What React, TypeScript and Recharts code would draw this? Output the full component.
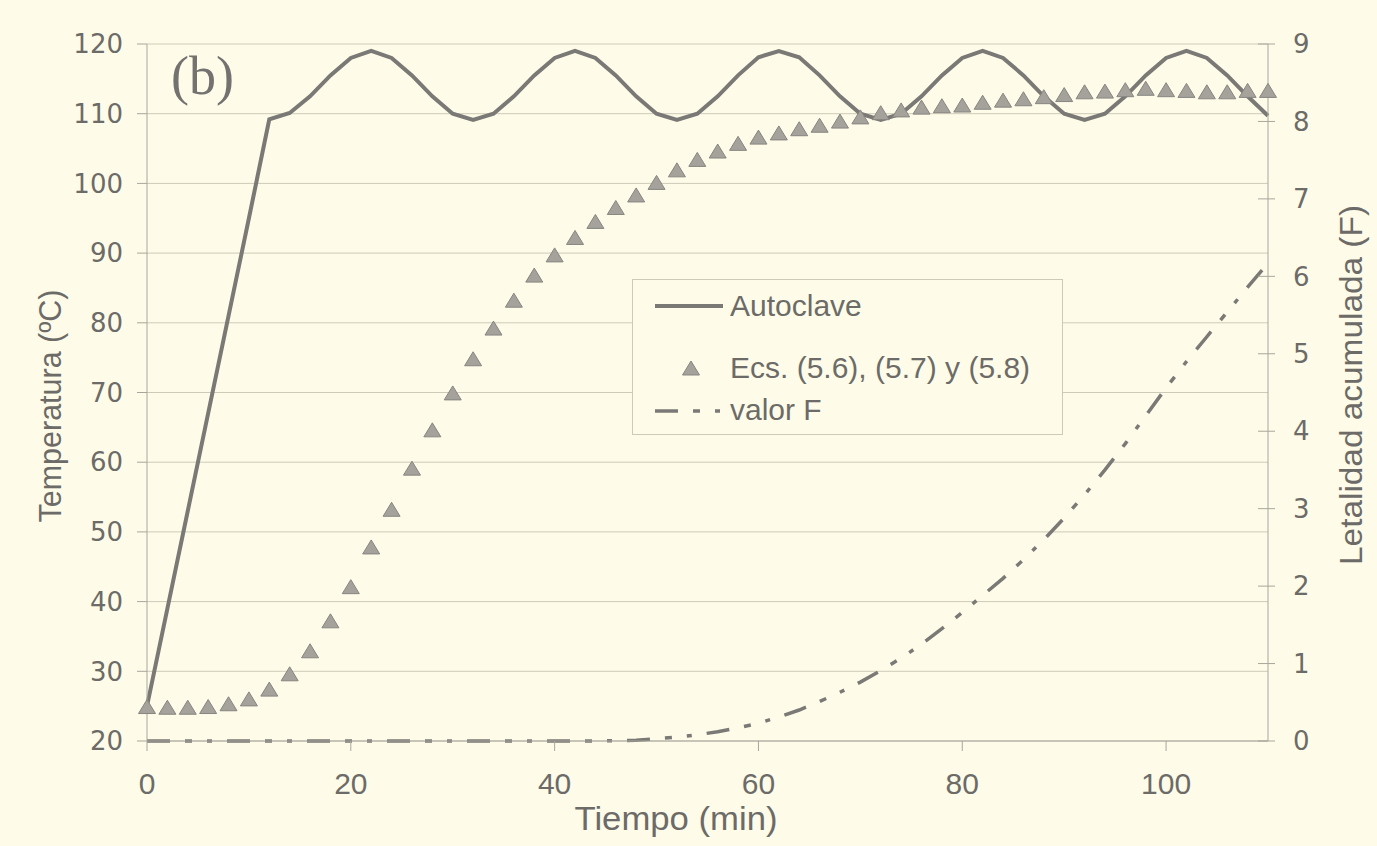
import { ComposedChart, Line, XAxis, YAxis, CartesianGrid, Legend, Label } from "recharts";

const tiempo = [
  0, 2, 4, 6, 8, 10, 12, 14, 16, 18, 20, 22, 24, 26, 28, 30, 32, 34, 36, 38, 40, 42, 44, 46, 48, 50, 52, 54,
  56, 58, 60, 62, 64, 66, 68, 70, 72, 74, 76, 78, 80, 82, 84, 86, 88, 90, 92, 94, 96, 98, 100, 102, 104, 106,
  108, 110,
];

// temperatura del autoclave (ºC)
const autoclave = [
  25, 39, 53, 67, 81, 95, 109.2, 110.1, 112.5, 115.5, 118, 119, 118, 115.5, 112.5, 110, 109.1, 110, 112.5,
  115.5, 118, 119, 118, 115.5, 112.5, 110, 109.1, 110, 112.5, 115.5, 118.1, 119, 118.1, 115.5, 112.5, 110,
  109.1, 110, 112.5, 115.5, 118, 119, 118, 115.5, 112.5, 110, 109.1, 110, 112.5, 115.5, 118, 119, 118, 115.5,
  112.5, 109.7,
];

// Ecs. (5.6), (5.7) y (5.8) (ºC)
const ecs = [
  24.8, 24.7, 24.7, 24.8, 25.2, 25.9, 27.3, 29.5, 32.8, 37.1, 42.0, 47.7, 53.1, 59.0, 64.5, 69.8, 74.7, 79.1,
  83.1, 86.7, 89.6, 92.1, 94.4, 96.4, 98.2, 100.0, 101.8, 103.3, 104.5, 105.6, 106.5, 107.1, 107.7, 108.2,
  108.8, 109.4, 110.0, 110.4, 110.8, 111.0, 111.1, 111.5, 111.8, 112.0, 112.3, 112.6, 113.0, 113.1, 113.3,
  113.5, 113.3, 113.2, 113.0, 113.0, 113.2, 113.2,
];

// letalidad acumulada F (min)
const valorF = [
  0, 0, 0, 0, 0, 0, 0, 0, 0, 0, 0, 0, 0, 0, 0, 0, 0, 0, 0, 0, 0, 0, 0, 0.005, 0.01, 0.03, 0.05, 0.08, 0.12,
  0.17, 0.23, 0.31, 0.4, 0.51, 0.63, 0.76, 0.91, 1.07, 1.25, 1.45, 1.66, 1.88, 2.1, 2.34, 2.6, 2.88, 3.18,
  3.5, 3.84, 4.2, 4.56, 4.9, 5.22, 5.54, 5.86, 6.17,
];

const xTicks = [0, 20, 40, 60, 80, 100];
const tempTicks = [20, 30, 40, 50, 60, 70, 80, 90, 100, 110, 120];
const fTicks = [0, 1, 2, 3, 4, 5, 6, 7, 8, 9];

const data = tiempo.map((t, i) => ({ t, autoclave: autoclave[i], ecs: ecs[i], valorF: valorF[i] }));

const BG = "#fefce9";
const TXT = "#6c6b68";
const LINE = "#7b7975";
const AXIS = "#a8a69c";
const GRID = "#cdcbb8";
const TRI_FILL = "#a4a29b";
const TRI_STROKE = "#878580";
const F_DASH = "23 15 7 15 5 15";

const Triangle = ({ cx, cy }: { cx: number; cy: number }) => (
  <path
    d={`M${cx},${cy - 8} L${cx + 8.5},${cy + 6} L${cx - 8.5},${cy + 6} Z`}
    fill={TRI_FILL}
    stroke={TRI_STROKE}
    strokeWidth={1}
  />
);

const RightTick = (props: any) => {
  const { x, y, payload } = props;
  return (
    <g>
      <line x1={x - 10} x2={x + 7} y1={y} y2={y} stroke={AXIS} strokeWidth={1} />
      <text x={x + 25} y={y} dy="0.355em" textAnchor="start" fill={TXT} fontSize={26} fontFamily="DejaVu Sans">
        {payload.value}
      </text>
    </g>
  );
};

const LegendBox = () => (
  <div
    style={{
      width: 431,
      height: 156,
      boxSizing: "border-box",
      border: `1px solid ${GRID}`,
      background: BG,
      position: "relative",
      fontFamily: "Liberation Sans",
      fontSize: 30,
      color: TXT,
    }}
  >
    <svg width={100} height={156} style={{ position: "absolute", left: 0, top: 0 }}>
      <line x1={22} x2={90} y1={26} y2={26} stroke={LINE} strokeWidth={4} />
      <Triangle cx={58} cy={89} />
      <line x1={22} x2={92} y1={131} y2={131} stroke={LINE} strokeWidth={3.5} strokeDasharray={F_DASH} />
    </svg>
    <div style={{ position: "absolute", left: 97, top: 8, lineHeight: "36px" }}>Autoclave</div>
    <div style={{ position: "absolute", left: 97, top: 70, lineHeight: "36px" }}>Ecs. (5.6), (5.7) y (5.8)</div>
    <div style={{ position: "absolute", left: 97, top: 112, lineHeight: "36px" }}>valor F</div>
  </div>
);

export default function App() {
  return (
    <div style={{ position: "fixed", left: 0, top: 0, width: 1377, height: 846, background: BG }}>
      <ComposedChart
        width={1377}
        height={846}
        data={data}
        margin={{ top: 44, right: 0, bottom: 0, left: 0 }}
        style={{ background: BG }}
      >
        <CartesianGrid yAxisId="left" vertical={false} stroke={GRID} strokeWidth={1} />
        <XAxis
          dataKey="t"
          type="number"
          domain={[0, 110]}
          ticks={xTicks}
          height={105}
          stroke={AXIS}
          tickSize={10}
          tickMargin={22}
          tick={{ fill: TXT, fontSize: 30, fontFamily: "Liberation Sans" }}
        >
          <Label
            content={() => (
              <text
                x={676}
                y={830}
                textAnchor="middle"
                fill={TXT}
                fontSize={33}
                fontFamily="Liberation Sans"
                textLength={203}
                lengthAdjust="spacingAndGlyphs"
              >
                Tiempo (min)
              </text>
            )}
          />
        </XAxis>
        <YAxis
          yAxisId="left"
          domain={[20, 120]}
          ticks={tempTicks}
          width={147}
          stroke={AXIS}
          tickSize={10}
          tickMargin={14}
          tick={{ fill: TXT, fontSize: 26, fontFamily: "DejaVu Sans" }}
        >
          <Label
            content={() => (
              <text
                x={61}
                y={406}
                transform="rotate(-90 61 406)"
                textAnchor="middle"
                fill={TXT}
                fontSize={32}
                fontFamily="Liberation Sans"
                textLength={233}
                lengthAdjust="spacingAndGlyphs"
              >
                Temperatura (ºC)
              </text>
            )}
          />
        </YAxis>
        <YAxis
          yAxisId="right"
          orientation="right"
          domain={[0, 9]}
          ticks={fTicks}
          width={109}
          stroke={AXIS}
          tickLine={false}
          tickSize={0}
          tickMargin={0}
          tick={RightTick}
        >
          <Label
            content={() => (
              <text
                x={1362}
                y={385}
                transform="rotate(-90 1362 385)"
                textAnchor="middle"
                fill={TXT}
                fontSize={32}
                fontFamily="Liberation Sans"
                textLength={360}
                lengthAdjust="spacingAndGlyphs"
              >
                Letalidad acumulada (F)
              </text>
            )}
          />
        </YAxis>
        <Legend
          layout="vertical"
          align="center"
          verticalAlign="middle"
          wrapperStyle={{ left: 632, top: 279, width: 431, height: 156 }}
          content={LegendBox}
        />
        <Line
          yAxisId="right"
          dataKey="valorF"
          type="linear"
          stroke={LINE}
          strokeWidth={3.5}
          strokeDasharray={F_DASH}
          dot={false}
          activeDot={false}
          isAnimationActive={false}
        />
        <Line
          yAxisId="left"
          dataKey="ecs"
          stroke="none"
          strokeWidth={0}
          dot={(p: any) => <Triangle key={`tri-${p.index}`} cx={p.cx} cy={p.cy} />}
          activeDot={false}
          isAnimationActive={false}
        />
        <Line
          yAxisId="left"
          dataKey="autoclave"
          type="linear"
          stroke={LINE}
          strokeWidth={4}
          dot={false}
          activeDot={false}
          isAnimationActive={false}
        />
      </ComposedChart>
      <div
        style={{
          position: "absolute",
          left: 171,
          top: 46,
          fontFamily: "Liberation Serif",
          fontSize: 54,
          color: "#737270",
          lineHeight: "60px",
        }}
      >
        (b)
      </div>
    </div>
  );
}
